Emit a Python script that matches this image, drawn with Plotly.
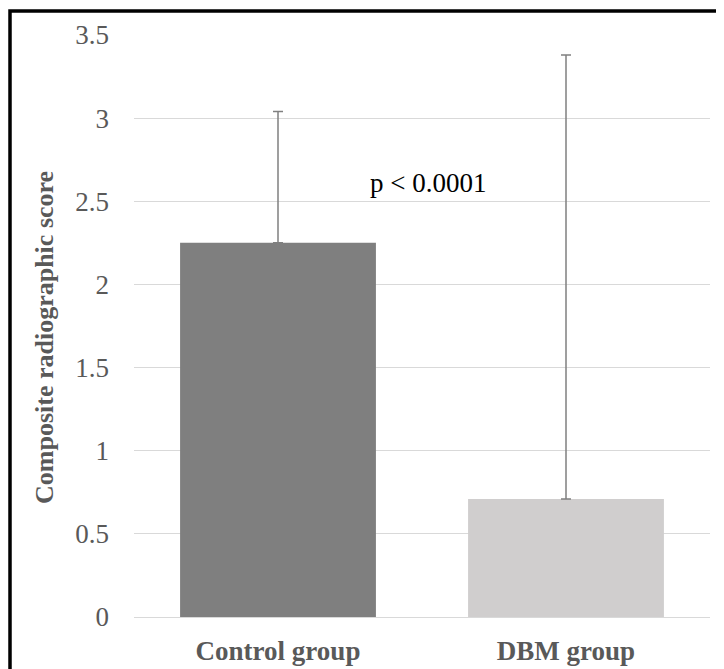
import plotly.graph_objects as go

categories = ["Control group", "DBM group"]
means = [2.25, 0.71]
err_plus = [0.79, 2.67]
bar_colors = ["#7f7f7f", "#d0cece"]
y_ticks = [0, 0.5, 1, 1.5, 2, 2.5, 3, 3.5]
y_tick_labels = ["0", "0.5", "1", "1.5", "2", "2.5", "3", "3.5"]
y_title = "Composite radiographic score"
p_text = "p < 0.0001"

W, H = 724, 669
L, R, T, B = 126, 22, 27, 60
pw, ph = W - L - R, H - T - B

fig = go.Figure()
fig.add_trace(go.Bar(
    x=categories, y=means,
    marker=dict(color=bar_colors, line=dict(width=0)),
    error_y=dict(type="data", symmetric=False, array=err_plus,
                 arrayminus=[0, 0], color="#808080", thickness=1.5, width=5),
    showlegend=False,
))

fig.add_annotation(x=0.52, y=2.61, xref="x", yref="y", text=p_text,
                   showarrow=False, font=dict(family="Liberation Serif", size=27, color="#000000"))

def px_x(px):
    return (px - L) / pw

def px_y(py):
    return (H - B - py) / ph

# y-axis title placed as rotated text
fig.add_annotation(x=px_x(37), y=px_y(330), xref="paper", yref="paper",
                   text=y_title, textangle=-90, showarrow=False,
                   xanchor="center", yanchor="middle",
                   font=dict(family="Liberation Serif", size=26, color="#595959", weight="bold"))

fig.add_shape(type="rect", xref="paper", yref="paper",
              x0=px_x(2), x1=px_x(740), y0=px_y(3), y1=px_y(690),
              line=dict(color="#000000", width=3.5), fillcolor="rgba(0,0,0,0)")

fig.update_layout(
    width=W, height=H,
    margin=dict(l=L, r=R, t=T, b=B, autoexpand=False),
    paper_bgcolor="white", plot_bgcolor="white",
    bargap=0.32,
    font=dict(family="Liberation Serif", color="#595959"),
    xaxis=dict(showgrid=False, showline=True, linecolor="#d9d9d9", linewidth=1,
               tickfont=dict(size=27, family="Liberation Serif", color="#595959", weight="bold"),
               ticks="", ticklabelstandoff=10, automargin=False),
    yaxis=dict(range=[0, 3.5], tickvals=y_ticks, ticktext=y_tick_labels,
               showgrid=True, gridcolor="#d9d9d9", gridwidth=1, zeroline=False,
               showline=False, ticks="", ticklabelstandoff=24,
               tickfont=dict(size=27, family="Liberation Serif", color="#595959"),
               automargin=False),
)

fig.write_html("out.html")
